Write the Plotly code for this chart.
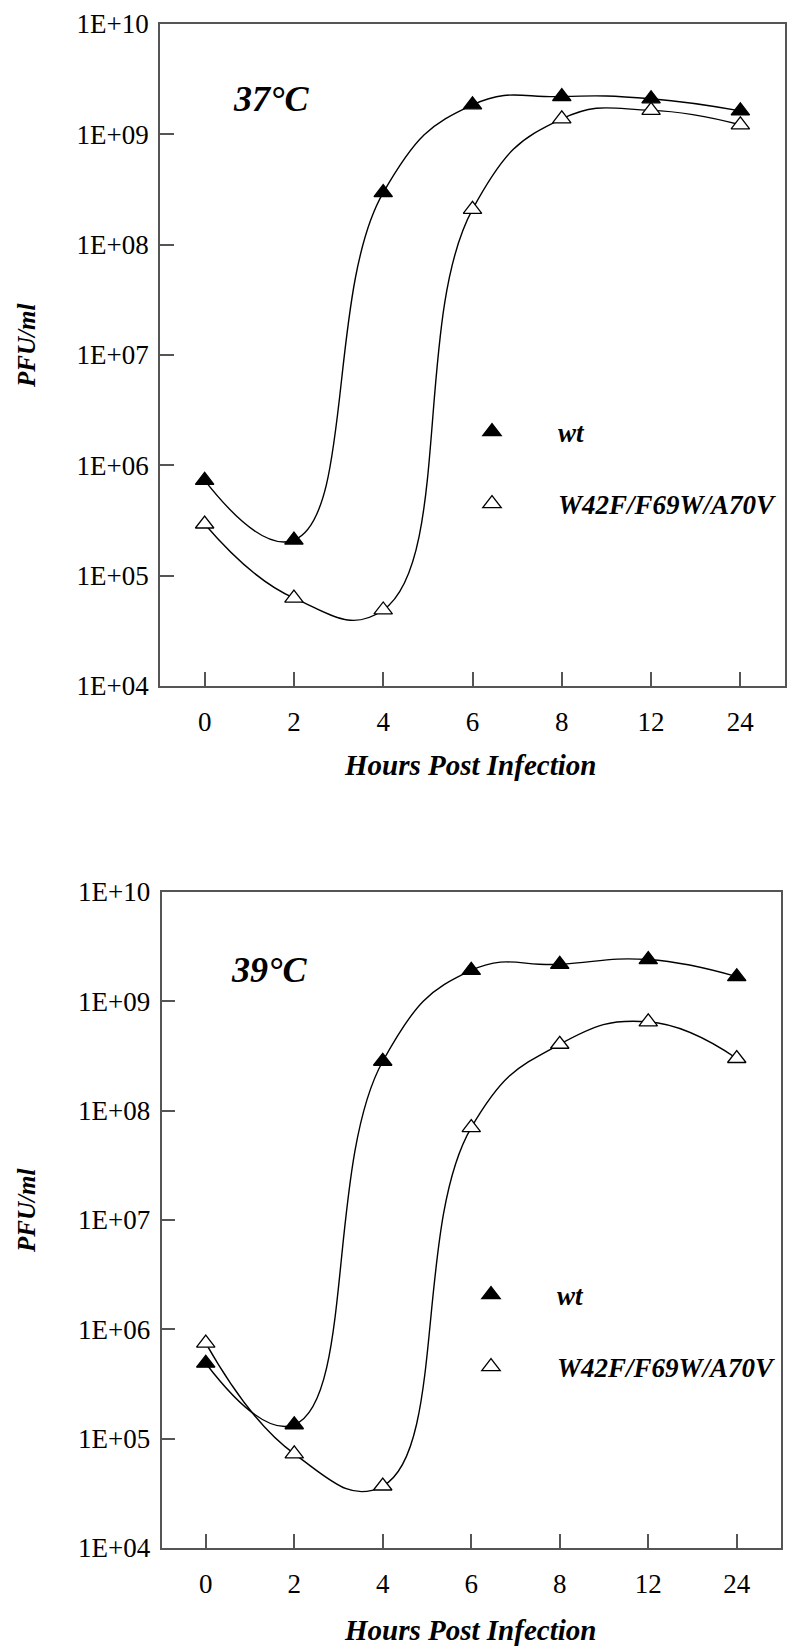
import plotly.graph_objects as go

# ---------------- data ----------------
hours = ["0", "2", "4", "6", "8", "12", "24"]

wt_37 = [7.3e5, 2.1e5, 2.96e8, 1.85e9, 2.2e9, 2.1e9, 1.63e9]
mut_37 = [2.94e5, 6.27e4, 4.89e4, 2.09e8, 1.38e9, 1.65e9, 1.22e9]

wt_39 = [4.9e5, 1.34e5, 2.83e8, 1.92e9, 2.18e9, 2.41e9, 1.68e9]
mut_39 = [7.47e5, 7.26e4, 3.69e4, 7.0e7, 4.05e8, 6.5e8, 3.0e8]

ytick_vals = [1e4, 1e5, 1e6, 1e7, 1e8, 1e9, 1e10]
ytick_text = ["1E+04", "1E+05", "1E+06", "1E+07", "1E+08", "1E+09", "1E+10"]

series_names = ["wt", "W42F/F69W/A70V"]
panel_titles = ["37°C", "39°C"]

# ---------------- layout helpers ----------------
W, H = 800, 1651
FONT = "Liberation Serif"


def px_x(x):
    return x / W


def px_y(y):
    return 1 - y / H


fig = go.Figure()

panels = [
    dict(wt=wt_37, mut=mut_37, xa="x", ya="y", legend="legend",
         xdom=[px_x(160), px_x(785)], ydom=[px_y(686), px_y(24)]),
    dict(wt=wt_39, mut=mut_39, xa="x2", ya="y2", legend="legend2",
         xdom=[px_x(161.5), px_x(781)], ydom=[px_y(1548), px_y(892)]),
]

for p in panels:
    for vals in (p["wt"], p["mut"]):
        fig.add_trace(go.Scatter(
            x=hours, y=vals, mode="lines", xaxis=p["xa"], yaxis=p["ya"],
            line=dict(color="black", width=1.4, shape="spline", smoothing=1.3),
            showlegend=False, hoverinfo="skip"))
    for vals, filled, name in [(p["wt"], True, series_names[0]),
                               (p["mut"], False, series_names[1])]:
        fig.add_trace(go.Scatter(
            x=hours, y=vals, mode="markers", xaxis=p["xa"], yaxis=p["ya"],
            name=name, legend=p["legend"], legendgroup=name,
            marker=dict(symbol="triangle-up", size=16,
                        color="black" if filled else "white",
                        line=dict(color="black", width=1.3)),
            showlegend=True))

axis_common = dict(
    showline=True, mirror=True, linecolor="#555555", linewidth=1.5,
    ticks="inside", ticklen=14, tickwidth=1.5, tickcolor="#555555",
    showgrid=False, zeroline=False, automargin=False,
    tickfont=dict(family=FONT, size=27, color="black"),
)

layout_axes = {}
for i, p in enumerate(panels):
    sfx = "" if i == 0 else str(i + 1)
    layout_axes["xaxis" + sfx] = dict(
        axis_common, type="category", domain=p["xdom"], range=[-0.5, 6.5],
        anchor="y" + sfx, ticklabelstandoff=11)
    layout_axes["yaxis" + sfx] = dict(
        axis_common, type="log", domain=p["ydom"], range=[4, 10],
        anchor="x" + sfx, tickvals=ytick_vals, ticktext=ytick_text,
        ticklabelstandoff=4)

fig.update_layout(
    width=W, height=H,
    margin=dict(l=0, r=0, t=0, b=0, autoexpand=False),
    paper_bgcolor="white", plot_bgcolor="white",
    **layout_axes,
)

legend_common = dict(
    font=dict(family=FONT, size=27, color="black", style="italic", weight="bold"),
    bgcolor="rgba(0,0,0,0)", borderwidth=0,
    itemwidth=122, tracegroupgap=34,
    xanchor="left", yanchor="middle",
)
fig.update_layout(
    legend=dict(legend_common, x=px_x(426), y=px_y(468)),
    legend2=dict(legend_common, x=px_x(425), y=px_y(1331)),
)

annots = [
    (271, 99, panel_titles[0], 36, 0),
    (269, 970, panel_titles[1], 36, 0),
    (470, 765, "Hours Post Infection", 29, 0),
    (470, 1630, "Hours Post Infection", 29, 0),
    (26, 346, "PFU/ml", 25, -90),
    (26, 1211, "PFU/ml", 25, -90),
]
for x, y, txt, sz, ang in annots:
    fig.add_annotation(
        x=px_x(x), y=px_y(y), xref="paper", yref="paper",
        text=txt, showarrow=False, textangle=ang,
        xanchor="center", yanchor="middle",
        font=dict(family=FONT, size=sz, color="black", style="italic", weight="bold"))

fig.write_html(
    "out.html",
    config={"displayModeBar": False},
    post_script="document.body.style.margin='0';document.body.style.padding='0';",
)
